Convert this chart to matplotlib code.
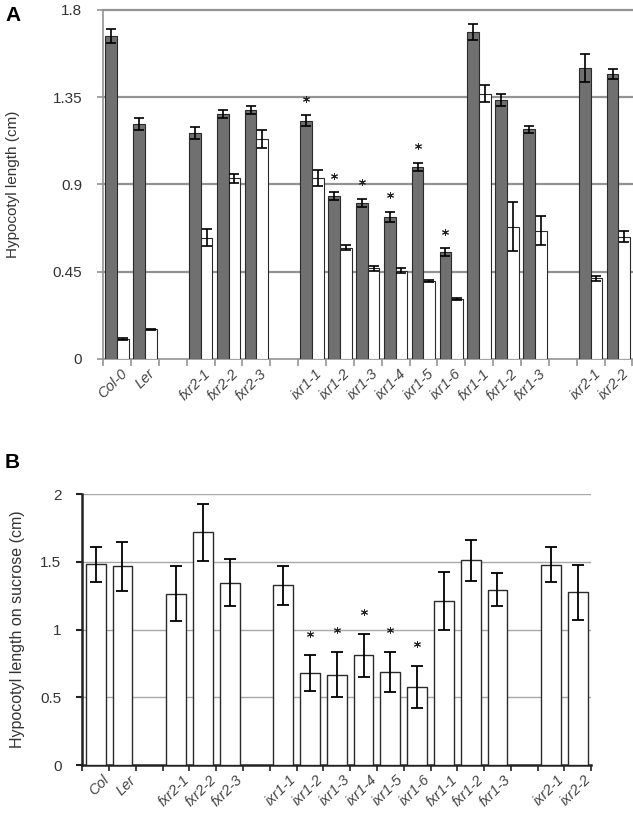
import matplotlib.pyplot as plt
import matplotlib.transforms as mtrans
import numpy as np

plt.rcParams['font.family'] = ['Liberation Sans', 'DejaVu Sans']

# panel A data (dark / white bars)
lines_a = ['Col-0', 'Ler', 'fxr2-1', 'fxr2-2', 'fxr2-3', 'ixr1-1', 'ixr1-2', 'ixr1-3',
           'ixr1-4', 'ixr1-5', 'ixr1-6', 'fxr1-1', 'fxr1-2', 'fxr1-3', 'ixr2-1', 'ixr2-2']
dark = [1.666, 1.212, 1.164, 1.262, 1.284, 1.227, 0.839, 0.805, 0.732, 0.990, 0.552,
        1.685, 1.336, 1.183, 1.499, 1.470]
dark_err = [0.037, 0.030, 0.032, 0.020, 0.021, 0.028, 0.021, 0.020, 0.028, 0.021, 0.020,
            0.041, 0.032, 0.020, 0.072, 0.027]
light = [0.103, 0.153, 0.626, 0.932, 1.133, 0.932, 0.574, 0.468, 0.456, 0.402, 0.309,
         1.368, 0.682, 0.662, 0.416, 0.631]
light_err = [0.003, 0.003, 0.046, 0.024, 0.046, 0.040, 0.013, 0.013, 0.012, 0.007, 0.003,
             0.043, 0.127, 0.075, 0.012, 0.029]
stars_a = ['ixr1-1', 'ixr1-2', 'ixr1-3', 'ixr1-4', 'ixr1-5', 'ixr1-6']

# panel B data
lines_b = ['Col', 'Ler', 'fxr2-1', 'fxr2-2', 'fxr2-3', 'ixr1-1', 'ixr1-2', 'ixr1-3',
           'ixr1-4', 'ixr1-5', 'ixr1-6', 'fxr1-1', 'fxr1-2', 'fxr1-3', 'ixr2-1', 'ixr2-2']
sucrose = [1.481, 1.469, 1.264, 1.718, 1.345, 1.326, 0.678, 0.668, 0.811, 0.688, 0.577,
           1.212, 1.511, 1.294, 1.479, 1.274]
sucrose_err = [0.130, 0.181, 0.202, 0.211, 0.174, 0.145, 0.133, 0.168, 0.159, 0.149, 0.154,
               0.212, 0.149, 0.123, 0.130, 0.201]
stars_b = ['ixr1-2', 'ixr1-3', 'ixr1-4', 'ixr1-5', 'ixr1-6']

# slot index of each line (gaps between groups)
slots = np.array([0, 1, 3, 4, 5, 7, 8, 9, 10, 11, 12, 13, 14, 15, 17, 18])
nslots = 19

fig = plt.figure(figsize=(6.33, 8.14), dpi=100)
label_col = '#333333'
# small shift of the rotated tick labels to the right
off_a = mtrans.ScaledTranslation(3 / 100, 0, fig.dpi_scale_trans)
off_b = mtrans.ScaledTranslation(6 / 100, 0, fig.dpi_scale_trans)

# ---- panel A ----
ax = fig.add_axes([0.163, 0.559, 0.836, 0.429])
xc = slots + 0.5
w = 0.42
ax.bar(xc - w / 2, dark, w, color='#707070', edgecolor='#2a2a2a', linewidth=0.8, zorder=3)
ax.bar(xc + w / 2, light, w, color='white', edgecolor='#2a2a2a', linewidth=0.8, zorder=3)
ax.errorbar(xc - w / 2, dark, yerr=dark_err, fmt='none', ecolor='black', elinewidth=1.2,
            capsize=3.5, capthick=1.2, zorder=4)
ax.errorbar(xc + w / 2, light, yerr=light_err, fmt='none', ecolor='black', elinewidth=1.2,
            capsize=3.5, capthick=1.2, zorder=4)
for name in stars_a:
    i = lines_a.index(name)
    ax.plot(xc[i] - w / 2, dark[i] + dark_err[i] + 0.085, marker=(6, 2, 0), ms=5,
            color='#222222', mew=0.7, zorder=5)
ax.set_xlim(0, nslots)
ax.set_ylim(0, 1.8)
ax.set_yticks([0, 0.45, 0.9, 1.35, 1.8])
ax.set_yticklabels(['0', '0.45', '0.9', '1.35', '1.8'])
for y in [0.45, 0.9, 1.35, 1.8]:
    ax.axhline(y, color='#939393', lw=1.6, zorder=1, clip_on=False)
ax.spines['top'].set_visible(False)
ax.spines['right'].set_visible(False)
ax.spines['left'].set_color('#939393')
ax.spines['bottom'].set_color('#939393')
ax.spines['left'].set_linewidth(1.2)
ax.spines['bottom'].set_linewidth(1.2)
ax.set_xticks(np.arange(0, nslots + 1))
ax.set_xticklabels([])
ax.tick_params(axis='x', which='major', length=5, color='#939393', width=1.2)
ax.tick_params(axis='y', length=4, color='#939393', width=1.2, labelsize=11,
               labelcolor=label_col, pad=11)
ax.set_xticks(xc, minor=True)
ax.set_xticklabels(lines_a, minor=True, rotation=45, ha='right', rotation_mode='anchor',
                   style='italic', fontsize=10.5, color='#444444')
ax.tick_params(axis='x', which='minor', length=0, pad=5.5)
for lab in ax.get_xticklabels(minor=True):
    lab.set_transform(lab.get_transform() + off_a)
ax.set_ylabel('Hypocotyl length (cm)', fontsize=11, color=label_col)
ax.yaxis.set_label_coords(-0.158, 0.5)
fig.text(0.008, 0.981, 'A', fontsize=15, fontweight='bold', va='center')

# ---- panel B ----
bx = fig.add_axes([0.130, 0.060, 0.804, 0.333])
bx.bar(xc, sucrose, 0.74, color='white', edgecolor='#2a2a2a', linewidth=1.0, zorder=3)
bx.errorbar(xc, sucrose, yerr=sucrose_err, fmt='none', ecolor='black', elinewidth=1.3,
            capsize=4, capthick=1.3, zorder=4)
for name in stars_b:
    i = lines_b.index(name)
    bx.plot(xc[i], sucrose[i] + sucrose_err[i] + 0.16, marker=(6, 2, 0), ms=5,
            color='#222222', mew=0.7, zorder=5)
bx.set_xlim(0, nslots)
bx.set_ylim(0, 2)
bx.set_yticks([0, 0.5, 1, 1.5, 2])
bx.set_yticklabels(['0', '0.5', '1', '1.5', '2'])
for y in [0.5, 1, 1.5, 2]:
    bx.axhline(y, color='#a8a8a8', lw=1.0, zorder=1)
bx.spines['top'].set_visible(False)
bx.spines['right'].set_visible(False)
bx.spines['left'].set_linewidth(1.8)
bx.spines['bottom'].set_linewidth(1.8)
bx.spines['left'].set_color('#222222')
bx.spines['bottom'].set_color('#222222')
bx.set_xticks(np.arange(0, nslots + 1))
bx.set_xticklabels([])
bx.tick_params(axis='x', which='major', length=4, width=1.2, color='#222222')
bx.tick_params(axis='y', length=4, width=1.5, color='#222222', labelsize=11,
               labelcolor=label_col, pad=11)
bx.set_xticks(xc, minor=True)
bx.set_xticklabels(lines_b, minor=True, rotation=45, ha='right', rotation_mode='anchor',
                   style='italic', fontsize=10.5, color='#444444')
bx.tick_params(axis='x', which='minor', length=0, pad=5.5)
for lab in bx.get_xticklabels(minor=True):
    lab.set_transform(lab.get_transform() + off_b)
bx.set_ylabel('Hypocotyl length on sucrose (cm)', fontsize=11.5, color=label_col)
bx.yaxis.set_label_coords(-0.113, 0.5)
fig.text(0.008, 0.432, 'B', fontsize=15, fontweight='bold', va='center')

fig.savefig('out.png', dpi=100)
